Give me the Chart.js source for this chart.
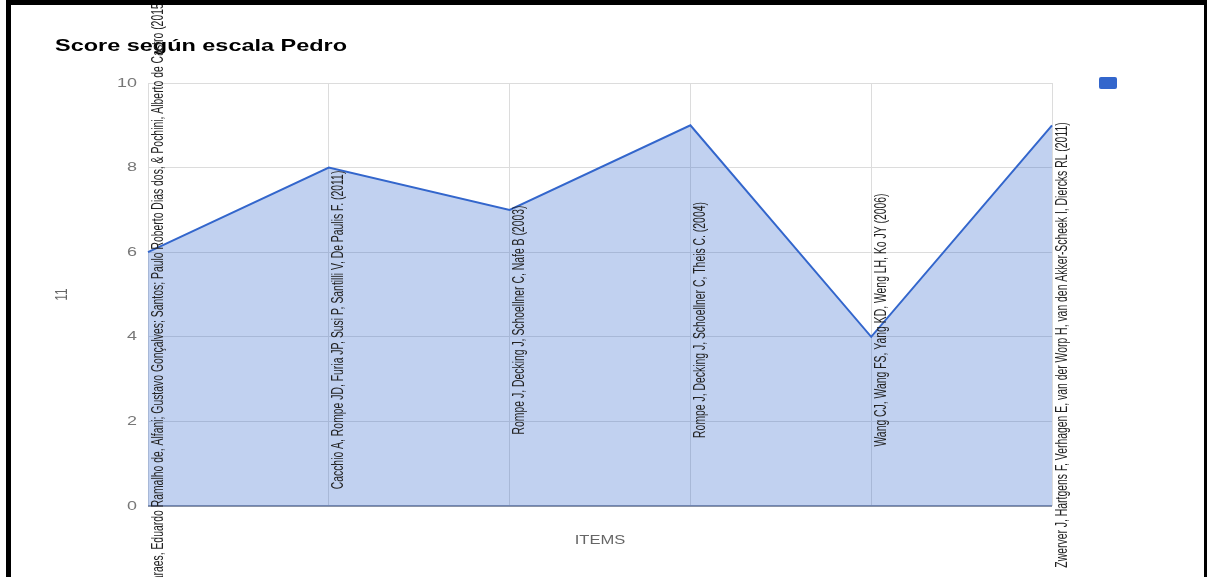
<!DOCTYPE html>
<html>
<head>
<meta charset="utf-8">
<script src="https://cdn.jsdelivr.net/npm/chart.js@4.4.0/dist/chart.umd.min.js"></script>
<style>
  html, body { margin: 0; padding: 0; background: #fff; overflow: hidden; }
  #frame {
    position: absolute; left: 6px; top: 0;
    border-left: 5px solid #000; border-top: 5px solid #000; border-right: 3px solid #000;
    width: 1193px; height: 572px; background: #fff;
  }
</style>
</head>
<body>
<div id="frame"><canvas id="pedroChart"></canvas></div>
<script>
// data
var studies = [
  'Guimaraes, Eduardo Ramalho de, Alfani; Gustavo Gonçalves; Santos; Paulo Roberto Dias dos, & Pochini, Alberto de Castro (2015)',
  'Cacchio A, Rompe JD, Furia JP, Susi P, Santilli V, De Paulis F. (2011)',
  'Rompe J, Decking J, Schoellner C, Nafe B (2003)',
  'Rompe J, Decking J, Schoellner C, Theis C. (2004)',
  'Wang CJ, Wang FS, Yang KD, Weng LH, Ko JY (2006)',
  'Zwerver J, Hartgens F, Verhagen E, van der Worp H, van den Akker-Scheek I, Diercks RL (2011)'
];
var scores = [6, 8, 7, 9, 4, 9];
var yTicks = [0, 2, 4, 6, 8, 10];
var chartTitle = 'Score según escala Pedro';
var xTitle = 'ITEMS';
var yTitle = '11';

var blue = '#3366cc';
var FONT = 'Arial, "Liberation Sans", sans-serif';
var STRETCH = 1.38; // the source picture is stretched sideways

function wideText(ctx, text, x, y, align) {
  ctx.save();
  ctx.translate(x, y);
  ctx.scale(STRETCH, 1);
  ctx.textAlign = align;
  ctx.fillText(text, 0, 0);
  ctx.restore();
}

// texts drawn by hand so they can be stretched like the source
var textLayer = {
  id: 'textLayer',
  afterDraw: function(chart) {
    var ctx = chart.ctx;
    var area = chart.chartArea;
    var xs = chart.scales.x;
    var ys = chart.scales.y;
    // vertical centre of each rotated study name
    var labelMid = [298, 325, 315, 315, 315, 340];
    ctx.save();
    ctx.textBaseline = 'middle';

    // title
    ctx.fillStyle = '#000';
    ctx.font = 'bold 17px ' + FONT;
    wideText(ctx, chartTitle, 44, 41, 'left');

    // y tick labels
    ctx.fillStyle = '#777';
    ctx.font = '13px ' + FONT;
    ys.ticks.forEach(function(t) {
      wideText(ctx, String(t.value), area.left - 11, ys.getPixelForValue(t.value), 'right');
    });

    // axis titles
    ctx.fillStyle = '#666';
    ctx.font = '12px ' + FONT;
    wideText(ctx, xTitle, (area.left + area.right) / 2, 536, 'center');
    ctx.save();
    ctx.translate(51, (area.top + area.bottom) / 2);
    ctx.rotate(-Math.PI / 2);
    ctx.scale(1, STRETCH);
    ctx.textAlign = 'center';
    ctx.fillText(yTitle, 0, 0);
    ctx.restore();

    // vertical study names at each point column
    ctx.fillStyle = '#222';
    ctx.font = '13px ' + FONT;
    ctx.textAlign = 'center';
    studies.forEach(function(name, i) {
      ctx.save();
      ctx.translate(xs.getPixelForValue(i) + 10, labelMid[i]);
      ctx.rotate(-Math.PI / 2);
      ctx.scale(0.8, 1.3);
      ctx.fillText(name, 0, 0);
      ctx.restore();
    });

    // legend swatch (series has no name)
    ctx.fillStyle = blue;
    ctx.beginPath();
    ctx.roundRect(1088, 72, 18, 12, 2);
    ctx.fill();
    ctx.restore();
  }
};

var ctx = document.getElementById('pedroChart').getContext('2d');
new Chart(ctx, {
  type: 'line',
  data: {
    labels: studies,
    datasets: [{
      label: '',
      data: scores,
      borderColor: blue,
      backgroundColor: 'rgba(51,102,204,0.3)',
      borderWidth: 2,
      fill: 'origin',
      pointRadius: 0,
      tension: 0
    }]
  },
  options: {
    responsive: true,
    maintainAspectRatio: false,
    animation: false,
    layout: { padding: { left: 44, top: 78, right: 152, bottom: 71 } },
    plugins: {
      legend: { display: false },
      tooltip: { enabled: false },
      title: { display: false }
    },
    scales: {
      x: {
        offset: false,
        border: { display: false },
        grid: { color: '#dcdcdc', drawTicks: false, offset: false },
        ticks: { display: false }
      },
      y: {
        min: 0,
        max: 10,
        afterBuildTicks: function(axis) {
          axis.ticks = yTicks.map(function(v) { return { value: v }; });
        },
        afterFit: function(axis) { axis.width = 93; },
        border: { display: false },
        grid: {
          drawTicks: false,
          color: function(c) { return c.tick && c.tick.value === 0 ? '#8a93a6' : '#dcdcdc'; },
          lineWidth: function(c) { return c.tick && c.tick.value === 0 ? 2 : 1; }
        },
        ticks: { display: false }
      }
    }
  },
  plugins: [textLayer]
});
</script>
</body>
</html>
